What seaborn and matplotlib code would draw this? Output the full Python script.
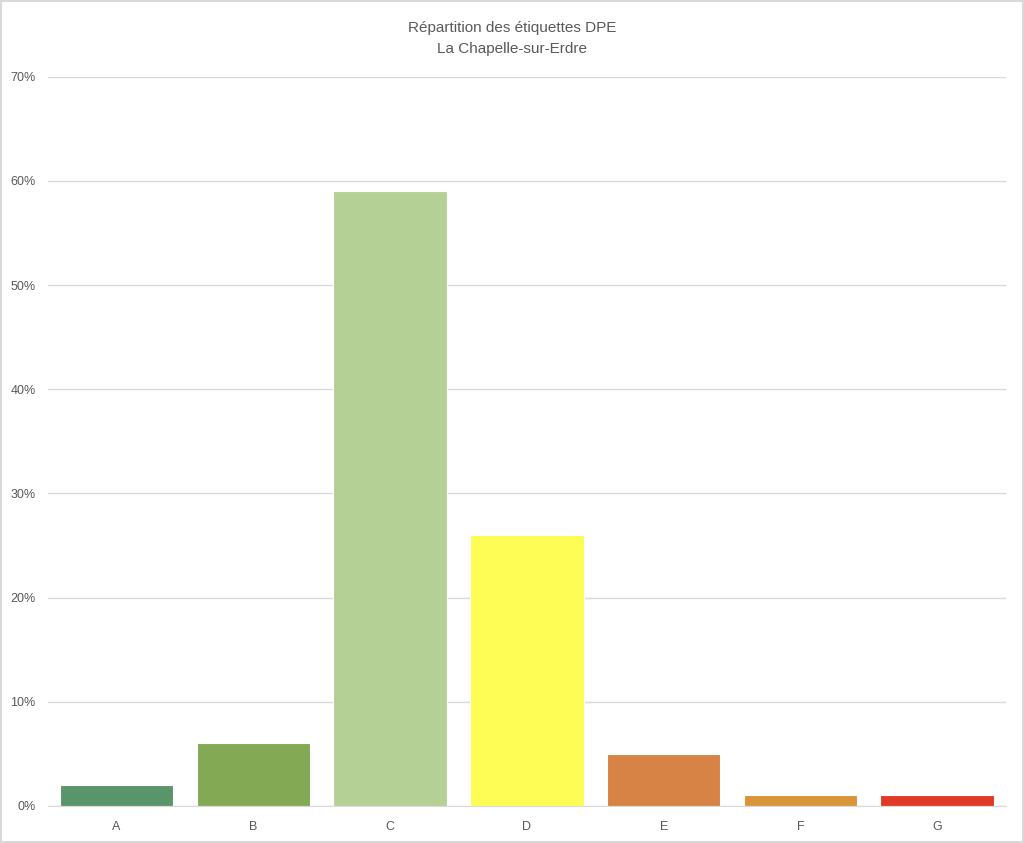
import pandas as pd
import seaborn as sns
import matplotlib.pyplot as plt
from matplotlib.patches import Rectangle
from matplotlib.ticker import PercentFormatter

labels = ['A', 'B', 'C', 'D', 'E', 'F', 'G']
shares = [2, 6, 59, 26, 5, 1, 1]
colors = ['#5a956a', '#83a955', '#b5d095', '#fdfd55', '#d78345', '#d99538', '#e03a25']

df = pd.DataFrame({'Etiquette': labels, 'Part': shares})

sns.set_style('white')
plt.rcParams['font.family'] = ['Liberation Sans', 'DejaVu Sans']

fig = plt.figure(figsize=(10.24, 8.43), dpi=100)
ax = fig.add_axes([0.047, 0.044, 0.935, 0.865])

sns.barplot(data=df, x='Etiquette', y='Part', hue='Etiquette', palette=colors,
            saturation=1, legend=False, width=0.83, edgecolor='white',
            linewidth=0.8, ax=ax)

ax.set_ylim(0, 70)
ax.set_yticks(range(0, 71, 10))
ax.yaxis.set_major_formatter(PercentFormatter(decimals=0))
ax.set_xlim(-0.5, 6.5)
ax.grid(axis='y', color='#d9d9d9', linewidth=1)
ax.set_axisbelow(True)
for s in ['top', 'right', 'left']:
    ax.spines[s].set_visible(False)
ax.spines['bottom'].set_color('#d9d9d9')
ax.tick_params(axis='both', length=0, labelsize=9, colors='#595959')
ax.tick_params(axis='x', pad=11)
ax.tick_params(axis='y', pad=9)
ax.set_xlabel('')
ax.set_ylabel('')

fig.text(0.5, 0.975, 'Répartition des étiquettes DPE\nLa Chapelle-sur-Erdre',
         ha='center', va='top', fontsize=11, color='#595959', linespacing=1.65)

fig.patches.append(Rectangle((0.001, 0.001), 0.998, 0.998, transform=fig.transFigure,
                             fill=False, edgecolor='#d9d9d9', linewidth=1.5))

fig.savefig('out.png', dpi=100)
